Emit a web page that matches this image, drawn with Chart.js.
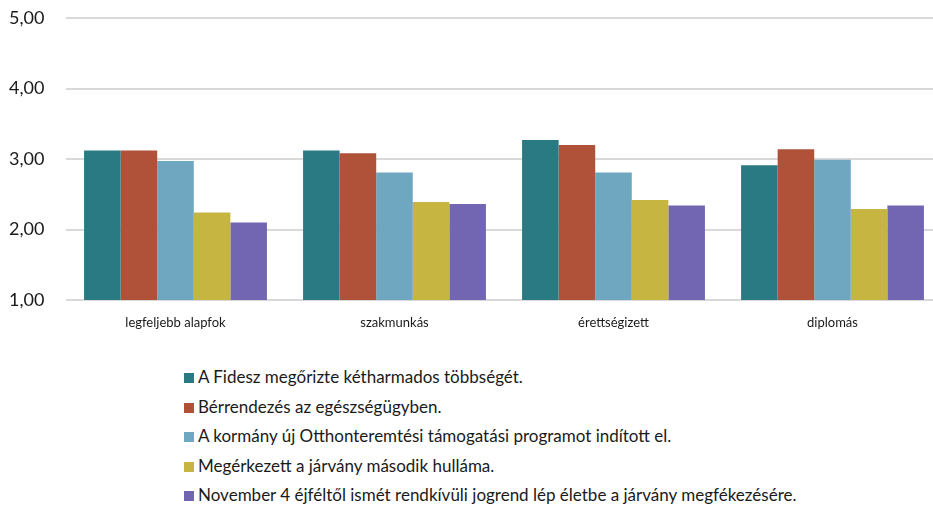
<!DOCTYPE html>
<html>
<head>
<meta charset="utf-8">
<script src="https://cdn.jsdelivr.net/npm/chart.js@4"></script>
<style>
  html, body { margin: 0; padding: 0; background: #fff; overflow: hidden; }
  #wrap { position: relative; width: 933px; height: 505px; overflow: hidden; }
  /* the plot runs slightly past the right edge, as in the source picture */
  #chartBox { position: absolute; left: 0; top: 0; width: 942px; height: 345px; }
  #legend { position: absolute; left: 184px; top: 364px; font-family: Lato, sans-serif; font-size: 17px; color: #1a1a1a; }
  #legend div { height: 29.5px; line-height: 26px; white-space: nowrap; }
  #legend span.sw { display: inline-block; width: 10px; height: 10px; margin-right: 4px; vertical-align: 0px; }
</style>
</head>
<body>
<div id="wrap">
  <div id="chartBox"><canvas id="chart"></canvas></div>
  <div id="legend"></div>
</div>
<script>
const categories = ["legfeljebb alapfok", "szakmunkás", "érettségizett", "diplomás"];
const seriesNames = [
  "A Fidesz megőrizte kétharmados többségét.",
  "Bérrendezés az egészségügyben.",
  "A kormány új Otthonteremtési támogatási programot indított el.",
  "Megérkezett a járvány második hulláma.",
  "November 4 éjféltől ismét rendkívüli jogrend lép életbe a járvány megfékezésére."
];
const fidesz = [3.12, 3.12, 3.27, 2.91];
const berrendezes = [3.12, 3.08, 3.20, 3.14];
const otthon = [2.97, 2.81, 2.81, 2.99];
const masodikHullam = [2.24, 2.39, 2.42, 2.29];
const jogrend = [2.10, 2.36, 2.34, 2.34];
const colors = ["#2a7a84", "#b0523a", "#70a7c0", "#c6b541", "#7265b1"];

const values = [fidesz, berrendezes, otthon, masodikHullam, jogrend];

const datasets = values.map((data, i) => ({
  label: seriesNames[i],
  data,
  backgroundColor: colors[i],
  borderWidth: 0,
  categoryPercentage: 0.835,
  barPercentage: 1.0,
}));

// legend as a plain vertical list under the chart
const legendEl = document.getElementById("legend");
seriesNames.forEach((name, i) => {
  const row = document.createElement("div");
  row.innerHTML = `<span class="sw" style="background:${colors[i]}"></span>${name}`;
  legendEl.appendChild(row);
});

new Chart(document.getElementById("chart"), {
  type: "bar",
  data: {labels: categories, datasets},
  options: {
    responsive: true,
    maintainAspectRatio: false,
    animation: false,
    layout: {padding: {top: 18, right: 0, left: 9, bottom: 0}},
    plugins: {
      legend: {display: false},
      tooltip: {enabled: false},
    },
    scales: {
      x: {
        grid: {display: false},
        border: {display: false},
        ticks: {
          color: "#1a1a1a",
          font: {family: "Lato", size: 13},
          padding: 7,
        },
        afterFit: scale => { scale.height = 45; },
      },
      y: {
        min: 1,
        max: 5,
        ticks: {
          stepSize: 1,
          color: "#1a1a1a",
          font: {family: "Lato", size: 18},
          padding: 0,
          crossAlign: "far",
          callback: v => v.toFixed(2).replace(".", ","),
        },
        grid: {color: "#d9d9d9", lineWidth: 2, drawTicks: false},
        border: {display: false},
        afterFit: scale => { scale.width = 57; },
      },
    },
  },
});
</script>
</body>
</html>
